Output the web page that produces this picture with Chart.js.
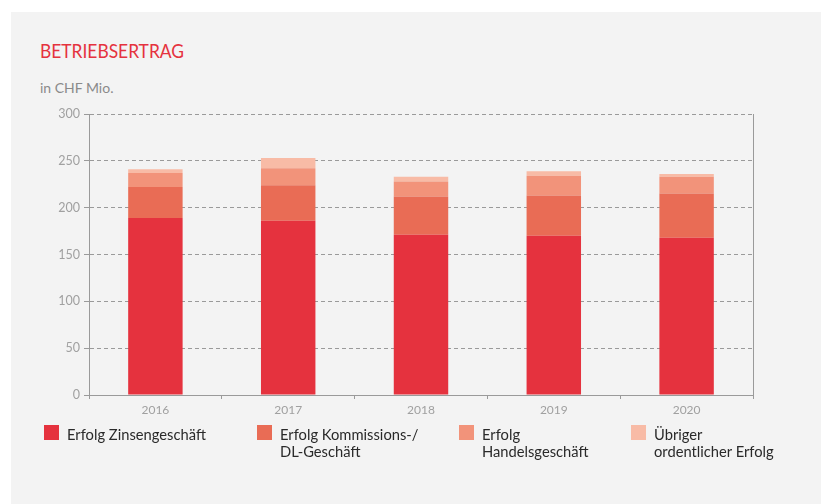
<!DOCTYPE html>
<html>
<head>
<meta charset="utf-8">
<script src="https://cdn.jsdelivr.net/npm/chart.js@4/dist/chart.umd.min.js"></script>
<style>
    body { margin: 0; background: #fff; width: 821px; height: 504px; overflow: hidden; position: relative; }
    #panel { position: absolute; left: 11px; top: 12px; width: 810px; height: 492px; background: #f3f3f3; }
    #chart { position: absolute; left: 0; top: 0; }
    .title, .sub, .leg { font-family: Lato, 'Open Sans', sans-serif; }
    .title { position: absolute; left: 40px; top: 40px; font-size: 20px; color: #e5323e; line-height: 1; transform: scaleX(0.87); transform-origin: left top; }
    .sub { position: absolute; left: 40px; top: 81px; font-size: 14px; color: #8a8a8a; line-height: 1; }
    .leg { position: absolute; top: 425px; font-size: 16px; color: #2a2a2a; }
    .leg .box { position: absolute; left: 0; top: 0; width: 15px; height: 15px; }
    .leg .txt { position: absolute; left: 23px; top: 0px; line-height: 17px; white-space: nowrap; transform: scaleX(0.92); transform-origin: left top; }
</style>
</head>
<body>
<div id="panel"></div>
<div class="title">BETRIEBSERTRAG</div>
<div class="sub">in CHF Mio.</div>
<canvas id="chart" width="821" height="504"></canvas>
<div id="legend"></div>
<script>
// data (CHF Mio.)
const years = ['2016', '2017', '2018', '2019', '2020'];
const zinsen = [189, 186, 171, 170, 168];
const kommissionen = [33, 38, 41, 43, 47];
const handel = [15, 18, 16, 21, 18];
const uebrige = [4, 11, 5, 5, 3];
const yTicks = [0, 50, 100, 150, 200, 250, 300];

const seriesNames = [
    ['Erfolg Zinsengeschäft'],
    ['Erfolg Kommissions-/', 'DL-Geschäft'],
    ['Erfolg', 'Handelsgeschäft'],
    ['Übriger', 'ordentlicher Erfolg']
];
const seriesColors = ['#e5323e', '#e96c55', '#f2937a', '#f8bba6'];
const seriesData = [zinsen, kommissionen, handel, uebrige];

const gridGray = '#9a9a9a';
const tickFont = { family: 'Lato, sans-serif', size: 12.5 };

let datasets = seriesData.map((d, i) => ({
    label: seriesNames[i].join(' '),
    data: d,
    backgroundColor: seriesColors[i],
    borderWidth: 0,
    categoryPercentage: 1,
    barPercentage: 0.41
}));

let ctx = document.getElementById('chart').getContext('2d');
window.myChart = new Chart(ctx, {
    type: 'bar',
    data: {
        labels: years,
        datasets: datasets
    },
    options: {
        responsive: false,
        animation: false,
        layout: {
            padding: { top: 114, left: 0, right: 68, bottom: 0 }
        },
        plugins: {
            legend: { display: false },
            tooltip: { enabled: false }
        },
        scales: {
            x: {
                stacked: true,
                afterFit: s => { s.height = 109; },
                grid: {
                    drawOnChartArea: false,
                    tickColor: gridGray,
                    tickLength: 4
                },
                border: { color: gridGray, dash: [4, 3] },
                ticks: { color: '#a0a0a0', font: { family: 'Lato, sans-serif', size: 12 }, padding: 4 }
            },
            y: {
                stacked: true,
                min: 0,
                max: 300,
                afterFit: s => { s.width = 89; },
                afterBuildTicks: s => { s.ticks = yTicks.map(v => ({ value: v })); },
                grid: {
                    color: gridGray,
                    tickColor: gridGray,
                    tickLength: 5
                },
                border: { color: gridGray, dash: [4, 3] },
                ticks: { color: '#a0a0a0', font: tickFont, padding: 4 }
            },
            y2: {
                position: 'right',
                min: 0,
                max: 300,
                afterFit: s => { s.width = 0; },
                grid: { drawOnChartArea: false, drawTicks: false },
                border: { color: gridGray, dash: [4, 3] },
                ticks: { display: false }
            }
        }
    }
});

// legend
const legendX = [44, 257, 459, 631];
let result = '';
seriesNames.forEach((lines, i) => {
    result += `
        <div class="leg" style="left:${legendX[i]}px">
            <div class="box" style="background:${seriesColors[i]}"></div>
            <div class="txt">${lines.join('<br>')}</div>
        </div>
    `;
});
document.getElementById('legend').innerHTML = result;
</script>
</body>
</html>
